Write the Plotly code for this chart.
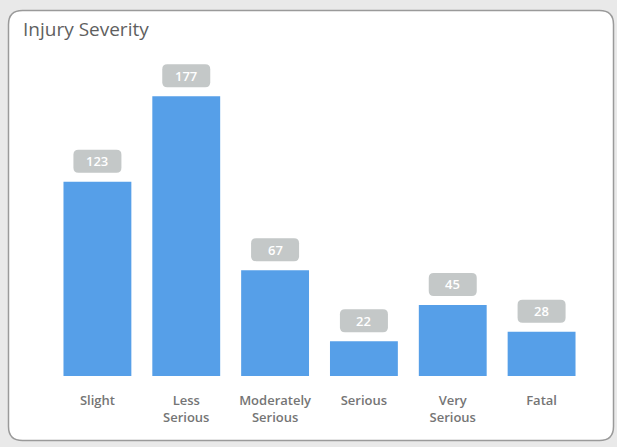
import plotly.graph_objects as go

categories = ["Slight", "Less<br>Serious", "Moderately<br>Serious", "Serious", "Very<br>Serious", "Fatal"]
values = [123, 177, 67, 22, 45, 28]
title_text = "Injury Severity"

W, H = 617, 447
L, R, T, B = 53, 31, 60, 71
pw, ph = W - L - R, H - T - B
ymax = 200

def px_x(p):
    return (p - L) / pw

def px_y(p):
    return (H - B - p) / ph

fig = go.Figure()
fig.add_trace(go.Bar(
    x=list(range(len(values))), y=values,
    marker=dict(color="#569fe8", line=dict(width=0)),
    hoverinfo="skip",
))

shapes = []
x0, x1, y0, y1, r = 8.5, 613.5, 10.5, 440.5, 14
def P(x, y):
    return f"{px_x(x)},{px_y(y)}"
card_path = (
    f"M {P(x0 + r, y0)} L {P(x1 - r, y0)} Q {P(x1, y0)} {P(x1, y0 + r)} "
    f"L {P(x1, y1 - r)} Q {P(x1, y1)} {P(x1 - r, y1)} "
    f"L {P(x0 + r, y1)} Q {P(x0, y1)} {P(x0, y1 - r)} "
    f"L {P(x0, y0 + r)} Q {P(x0, y0)} {P(x0 + r, y0)} Z"
)
shapes.append(dict(type="path", xref="paper", yref="paper", path=card_path,
                   fillcolor="white", line=dict(color="#9a9a9a", width=1.5), layer="below"))

annotations = []
bw, bh, rr = 48, 23, 5
for i, v in enumerate(values):
    bx0, bx1 = -bw / 2, bw / 2
    by0, by1 = 9, 9 + bh
    path = (
        f"M {bx0 + rr},{by0} L {bx1 - rr},{by0} Q {bx1},{by0} {bx1},{by0 + rr} "
        f"L {bx1},{by1 - rr} Q {bx1},{by1} {bx1 - rr},{by1} "
        f"L {bx0 + rr},{by1} Q {bx0},{by1} {bx0},{by1 - rr} "
        f"L {bx0},{by0 + rr} Q {bx0},{by0} {bx0 + rr},{by0} Z"
    )
    shapes.append(dict(type="path", xref="x", yref="y", xsizemode="pixel", ysizemode="pixel",
                       xanchor=i, yanchor=v, path=path, fillcolor="#c4c8c8",
                       line=dict(width=0), layer="above"))
    annotations.append(dict(x=i, y=v, xref="x", yref="y", text=str(v), showarrow=False,
                            yshift=9 + bh / 2,
                            font=dict(color="white", size=13, family="Open Sans", weight=600),
                            yanchor="middle"))

annotations.append(dict(x=px_x(21), y=px_y(29), xref="paper", yref="paper", text=title_text,
                        showarrow=False, xanchor="left", yanchor="middle",
                        font=dict(size=19, color="#5f5f5f", family="Open Sans", weight=400)))

fig.update_layout(
    width=W, height=H,
    margin=dict(l=L, r=R, t=T, b=B),
    paper_bgcolor="#e9e9e9", plot_bgcolor="rgba(0,0,0,0)",
    bargap=0.236, showlegend=False,
    shapes=shapes, annotations=annotations,
    xaxis=dict(range=[-0.5, len(values) - 0.5], tickmode="array",
               tickvals=list(range(len(values))), ticktext=categories,
               showgrid=False, zeroline=False, showline=False,
               ticks="outside", ticklen=12, tickcolor="rgba(0,0,0,0)",
               tickfont=dict(size=13, color="#757575", family="Open Sans", weight=600)),
    yaxis=dict(range=[0, ymax], visible=False),
)

fig.write_html("out.html", config={"displayModeBar": False},
               post_script="document.body.style.margin='0';document.body.style.overflow='hidden';document.body.style.background='#e9e9e9';")
